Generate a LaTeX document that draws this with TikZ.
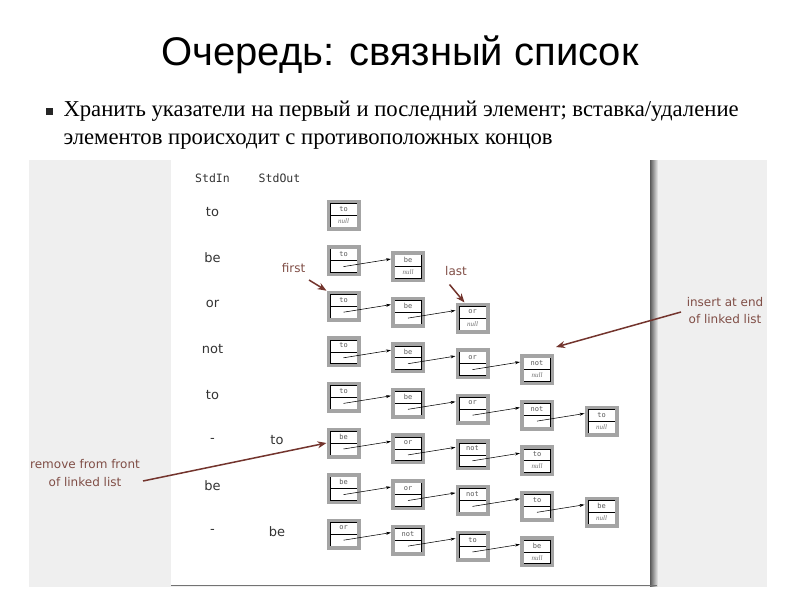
\documentclass[tikz,border=0pt]{standalone}
\usepackage{fontspec}
\setmainfont{Liberation Serif}
\newfontfamily\titlef{Liberation Sans}
\newfontfamily\monof{DejaVu Sans Mono}
\newfontfamily\labf{DejaVu Sans}
\usetikzlibrary{arrows.meta}
\definecolor{bggray}{HTML}{EFEFEF}
\definecolor{boxgray}{HTML}{A4A4A4}
\definecolor{brownlab}{RGB}{128,78,70}
\definecolor{brownarr}{RGB}{115,52,45}
\definecolor{txtgray}{HTML}{333333}
\tikzset{
  lnode/.style={rectangle, draw=boxgray, line width=3.5pt, fill=white,
    minimum width=30.5pt, minimum height=27.5pt, inner sep=0pt,
    path picture={
      \draw[black, line width=0.6pt]
        ([xshift=1.9pt,yshift=1.9pt]path picture bounding box.south west) rectangle
        ([xshift=-1.9pt,yshift=-1.9pt]path picture bounding box.north east);
      \draw[black, line width=0.6pt]
        ([xshift=1.9pt]path picture bounding box.west) --
        ([xshift=-1.9pt]path picture bounding box.east);}},
  valtext/.style={inner sep=0pt, text=black!65, font=\monof\fontsize{7}{7}\selectfont},
  nulltext/.style={inner sep=0pt, text=black!55, font=\itshape\fontsize{7}{7}\selectfont},
  link/.style={black, line width=0.55pt, -{Stealth[length=5pt,width=3pt]}},
  hdr/.style={inner sep=0pt, text=txtgray, font=\monof\fontsize{11.5}{11.5}\selectfont},
  inval/.style={inner sep=0pt, text=txtgray, font=\labf\fontsize{13}{13}\selectfont},
  lab/.style={inner sep=0pt, align=center, text=brownlab, font=\labf\fontsize{12}{17.5}\selectfont},
  labarrow/.style={brownarr, line width=1.5pt, -{Stealth[length=9pt,width=7pt]}},
}
\begin{document}
\begin{tikzpicture}[x=1pt,y=-1pt]
\useasboundingbox (0,0) rectangle (800,600);
\fill[white] (0,0) rectangle (800,600);
% title
\node[inner sep=0pt, anchor=base, font=\titlef\fontsize{40}{40}\selectfont] (title) at (400,65) {Очередь: связный список};
% bullet
\node[fill=black!85, inner sep=0pt, minimum width=6.5pt, minimum height=6.5pt] (bul) at (49.5,111.5) {};
\node[inner sep=0pt, anchor=base west, font=\fontsize{22.7}{22.7}\selectfont] (line1) at (63.3,116.7) {Хранить указатели на первый и последний элемент; вставка/удаление};
\node[inner sep=0pt, anchor=base west, font=\fontsize{22.7}{22.7}\selectfont] (line2) at (63.3,144.3) {элементов происходит с противоположных концов};
% background and panel
\fill[bggray] (29,160) rectangle (767,587);
\fill[white] (171,160) rectangle (651,585);
\shade[left color=black!65, right color=bggray] (650,160) rectangle (658,586);
\draw[black!55, line width=1pt] (171,585.5) -- (657,585.5);
% headers
\node[hdr] (hin) at (212.5,178) {StdIn};
\node[hdr] (hout) at (279.5,178) {StdOut};
\foreach \v [count=\r] in {to,be,or,not,to,-,be,-} {
  \pgfmathsetmacro\yy{215+45.6*(\r-1)-2.5}
  \node[inval] (in\r) at (212.5,\yy) {\v};
}
\node[inval] (out6) at (277,440.5) {to};
\node[inval] (out8) at (277,531.7) {be};
% linked lists
\foreach \r/\n/\vals in {1/1/{to}, 2/2/{to,be}, 3/3/{to,be,or}, 4/4/{to,be,or,not},
   5/5/{to,be,or,not,to}, 6/4/{be,or,not,to}, 7/5/{be,or,not,to,be}, 8/4/{or,not,to,be}} {
  \foreach \v [count=\c] in \vals {
    \pgfmathsetmacro\xx{343.5+64.5*(\c-1)}
    \pgfmathsetmacro\yy{215+45.6*(\r-1)+5.9*(\c-1)}
    \node[lnode] (n\r-\c) at (\xx,\yy) {};
    \node[valtext] at ([yshift=6.3pt]n\r-\c.center) {\v};
    \ifnum\c=\n \node[nulltext] at ([yshift=-5.8pt]n\r-\c.center) {null};\fi
    \ifnum\c>1
      \pgfmathtruncatemacro\p{\c-1}
      \draw[link] ([yshift=-6pt]n\r-\p.center) -- ([yshift=7.5pt]n\r-\c.west);
    \fi
  }
}
% annotations
\node[lab] (first) at (293.5,268) {first};
\node[lab] (last) at (456,271) {last};
\node[lab] (ins) at (725,310.5) {insert at end\\of linked list};
\node[lab] (rem) at (85,473) {remove from front\\of linked list};
\coordinate (firstS) at (309,280);
\coordinate (lastS) at (449.5,284.5);
\coordinate (insS) at (681,312);
\coordinate (insE) at (556,347);
\coordinate (remS) at (143,481);
\draw[labarrow] (firstS) -- (n3-1.north west);
\draw[labarrow] (lastS) -- ([xshift=-8pt]n3-3.north);
\draw[labarrow] (insS) -- (insE);
\draw[labarrow] (remS) -- (n6-1.west);
\end{tikzpicture}
\end{document}
